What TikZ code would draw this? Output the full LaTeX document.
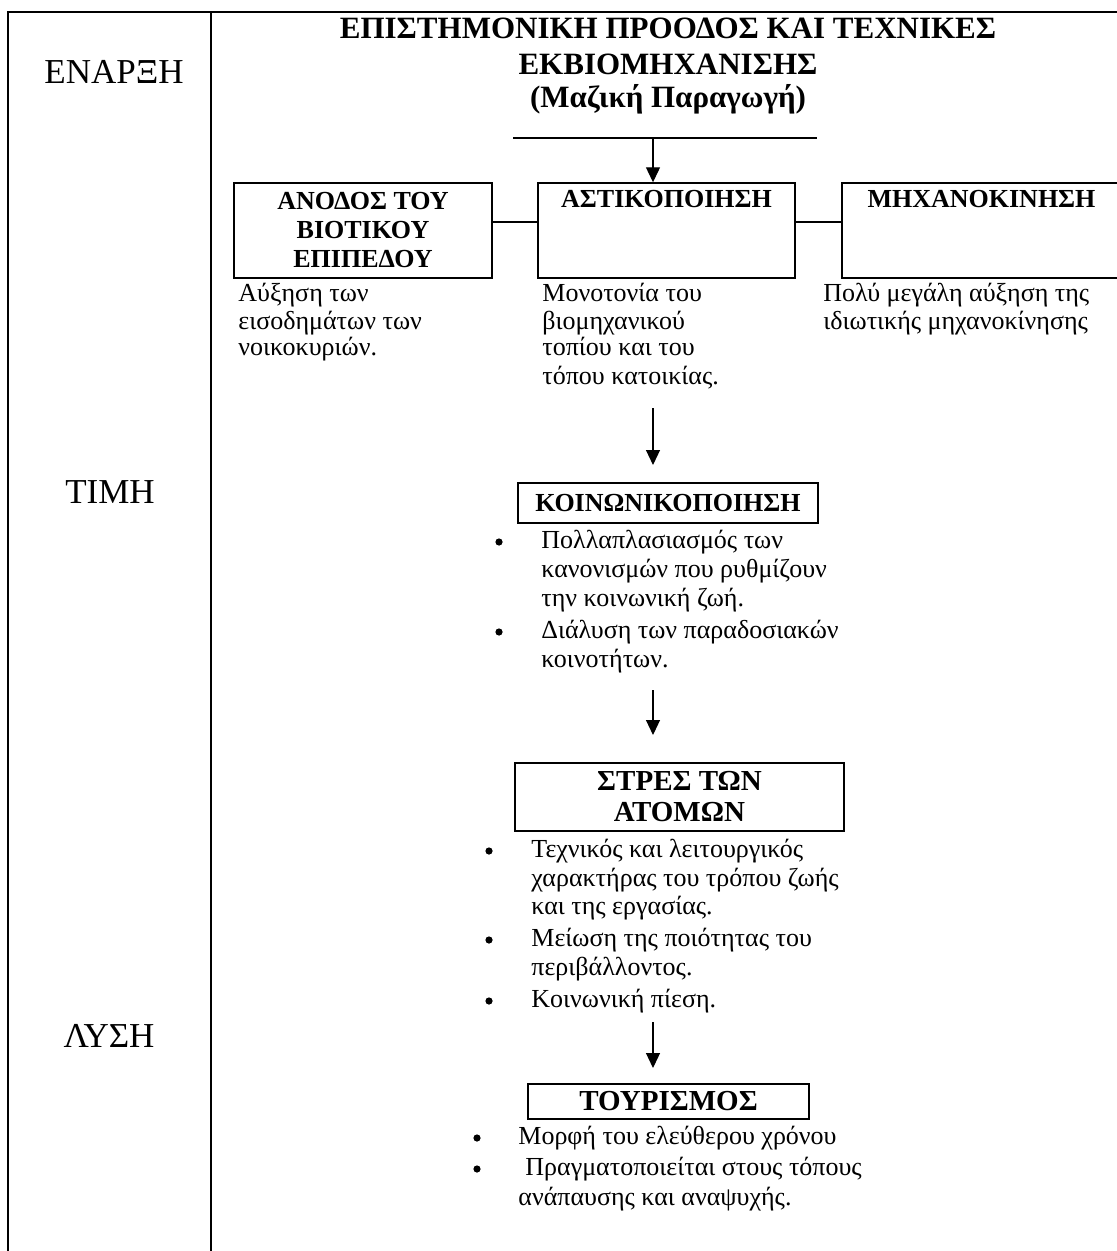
\documentclass[tikz,border=0pt]{standalone}
\usepackage{fontspec}
\setmainfont{Liberation Serif}
\usetikzlibrary{arrows.meta}

\def\titlelines{39/ΕΠΙΣΤΗΜΟΝΙΚΗ ΠΡΟΟΔΟΣ ΚΑΙ ΤΕΧΝΙΚΕΣ, 75/ΕΚΒΙΟΜΗΧΑΝΙΣΗΣ, 108/{(Μαζική Παραγωγή)}}
\def\stages{114/84/ΕΝΑΡΞΗ, 110/503/ΤΙΜΗ, 109/1047/ΛΥΣΗ}
\def\risetext{302/Αύξηση των, 329/εισοδημάτων των, 356/νοικοκυριών.}
\def\urbantext{302/Μονοτονία του, 329/βιομηχανικού, 356/τοπίου και του, 384/τόπου κατοικίας.}
\def\motortext{302/Πολύ μεγάλη αύξηση της, 329/ιδιωτικής μηχανοκίνησης}
\def\socialtext{548/Πολλαπλασιασμός των, 577/κανονισμών που ρυθμίζουν, 606/την κοινωνική ζωή., 638/Διάλυση των παραδοσιακών, 667/κοινοτήτων.}
\def\stresstext{857/Τεχνικός και λειτουργικός, 886/χαρακτήρας του τρόπου ζωής, 914/και της εργασίας., 946/Μείωση της ποιότητας του, 975/περιβάλλοντος., 1007/Κοινωνική πίεση.}
\def\tourtext{518/1144/Μορφή του ελεύθερου χρόνου, 525/1175/Πραγματοποιείται στους τόπους, 518/1205/ανάπαυσης και αναψυχής.}
\def\dotspots{499/542, 499/632, 489/851, 489/940, 489/1001, 477/1138, 477/1169}

\tikzset{
  frame/.style={draw, line width=1pt},
  box/.style={draw, line width=0.7pt, inner sep=0pt, align=center}
  }
\tikzstyle{link} = [draw, line width=0.55pt, -]
\tikzstyle{flow} = [draw, line width=0.6pt, -{Triangle[length=7.5pt, width=7pt]}]
\tikzstyle{plain} = [anchor=base west, inner sep=0pt, font=\fontsize{13}{15}\selectfont]
\tikzstyle{dot} = [circle, fill, inner sep=0pt, minimum size=3.6pt]
\tikzstyle{head} = [font=\fontsize{13}{14.5}\selectfont\bfseries]
\tikzstyle{bighead} = [font=\fontsize{14.5}{15.5}\selectfont\bfseries]

\begin{document}
\begin{tikzpicture}[x=0.5pt, y=-0.5pt]

  \useasboundingbox (0,0) rectangle (1117,1251);
  \clip (0,0) rectangle (1117,1251);

  % The table lines
  \draw[frame] (8,1260) -- (8,12) -- (1125,12);
  \draw[frame] (211,12) -- (211,1260);

  % The stages on the left
  \foreach \x/\y/\txt [count=\i] in \stages
    \node[anchor=base, inner sep=0pt, font=\fontsize{17.5}{20}\selectfont] (stage-\i) at (\x,\y) {\txt};

  % The title and its rule
  \foreach \y/\txt [count=\i] in \titlelines
    \node[font=\fontsize{15.5}{17}\selectfont\bfseries, anchor=base, inner sep=0pt] (title-\i) at (668,\y) {\txt};
  \coordinate (rule-l) at (513,138);
  \coordinate (rule-r) at (817,138);
  \coordinate (rule-m) at (653,138);
  \path[link] (rule-l) -- (rule-r);

  % The three boxes of the first row
  \node[box, head, minimum width=129pt, minimum height=47.5pt] (rise) at (363,230.5) {ΑΝΟΔΟΣ ΤΟΥ\\ΒΙΟΤΙΚΟΥ\\ΕΠΙΠΕΔΟΥ};
  \node[box, minimum width=128.5pt, minimum height=47.5pt] (urban) at (666.5,230.5) {};
  \node[box, minimum width=139.5pt, minimum height=47.5pt] (motor) at (981.5,230.5) {};
  \node[head, anchor=base, inner sep=0pt] (urban-h) at (666.5,208) {ΑΣΤΙΚΟΠΟΙΗΣΗ};
  \node[head, anchor=base, inner sep=0pt] (motor-h) at (981.5,208) {ΜΗΧΑΝΟΚΙΝΗΣΗ};

  \path[flow] (rule-m) -- (rule-m |- urban.north);
  \path[link] ([yshift=4.25pt]rise.east) -- ([yshift=4.25pt]urban.west);
  \path[link] ([yshift=4.25pt]urban.east) -- ([yshift=4.25pt]motor.west);

  % The texts under them
  \foreach \y/\txt [count=\i] in \risetext
    \node[plain] (rise-\i) at (238,\y) {\txt};
  \foreach \y/\txt [count=\i] in \urbantext
    \node[plain] (urban-\i) at (542,\y) {\txt};
  \foreach \y/\txt [count=\i] in \motortext
    \node[plain] (motor-\i) at (823,\y) {\txt};

  % The chain down the middle
  \node[box, head, minimum width=150pt, minimum height=20pt] (social) at (668,503) {ΚΟΙΝΩΝΙΚΟΠΟΙΗΣΗ};
  \node[box, bighead, minimum width=164.5pt, minimum height=34pt] (stress) at (679.5,797) {ΣΤΡΕΣ ΤΩΝ\\ΑΤΟΜΩΝ};
  \node[box, bighead, minimum width=140.5pt, minimum height=17.5pt] (tour) at (668.5,1101.5) {ΤΟΥΡΙΣΜΟΣ};

  \foreach \y/\txt [count=\i] in \socialtext
    \node[plain] (social-\i) at (541,\y) {\txt};
  \foreach \y/\txt [count=\i] in \stresstext
    \node[plain] (stress-\i) at (531,\y) {\txt};
  \foreach \x/\y/\txt [count=\i] in \tourtext
    \node[plain] (tour-\i) at (\x,\y) {\txt};
  \foreach \x/\y [count=\i] in \dotspots
    \node[dot] (dot-\i) at (\x,\y) {};

  % The arrows between them
  \foreach \top/\tip [count=\i] in {408/465, 690/735, 1022/1068} {
    \coordinate (from-\i) at (653,\top);
    \coordinate (to-\i) at (653,\tip);
    \path[flow] (from-\i) -- (to-\i);
  }
\end{tikzpicture}
\end{document}
